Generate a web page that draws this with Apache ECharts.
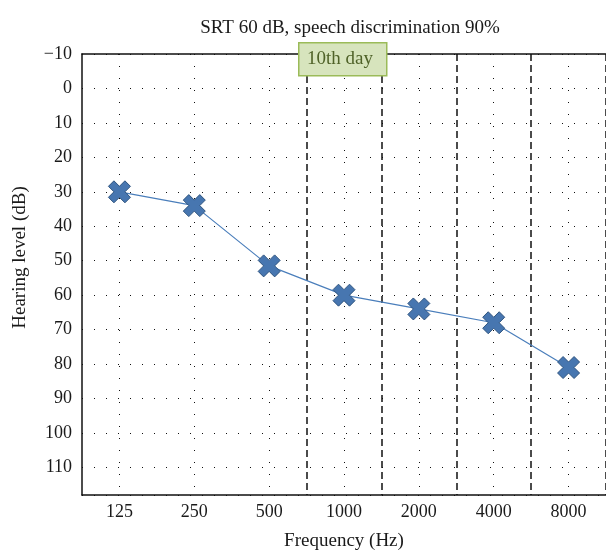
<!DOCTYPE html>
<html>
<head>
<meta charset="utf-8">
<script src="https://cdn.jsdelivr.net/npm/echarts@6/dist/echarts.min.js"></script>
<style>
  html, body { margin: 0; padding: 0; background: #fff; }
  #chart { width: 606px; height: 557px; }
</style>
</head>
<body>
<div id="chart"></div>
<script>
// audiogram data
const frequencies = ['125', '250', '500', '1000', '2000', '4000', '8000']
const hearingLevel = [30, 34, 51.5, 60, 64, 68, 81]
const yTicks = [-10, 0, 10, 20, 30, 40, 50, 60, 70, 80, 90, 100, 110]
const dayLabel = '10th day'
const firstDashed = 3 // dashed separators start before 1000 Hz

const serif = '"Liberation Serif", "DejaVu Serif", serif'
const crossPath = 'path://M5,0 L10,5 L15,0 L20,5 L15,10 L20,15 L15,20 L10,15 L5,20 L0,15 L5,10 L0,5 Z'

const myChart = echarts.init(document.getElementById('chart'))
const option = {
  backgroundColor: '#fff',
  animation: false,
  title: {
    text: 'SRT 60 dB, speech discrimination 90%',
    left: 345,
    top: 14,
    textAlign: 'center',
    textStyle: { fontFamily: serif, fontSize: 19, fontWeight: 'normal', color: '#1a1a1a' }
  },
  grid: { left: 82, right: -8, top: 54, bottom: 62, containLabel: false },
  xAxis: [
    {
      type: 'category',
      data: frequencies,
      boundaryGap: true,
      name: 'Frequency (Hz)',
      nameLocation: 'middle',
      nameGap: 37,
      nameTextStyle: { fontFamily: serif, fontSize: 19, color: '#1a1a1a' },
      axisLine: { show: true, onZero: false, lineStyle: { color: '#111', width: 1.5 } },
      axisTick: { show: false },
      axisLabel: { fontFamily: serif, fontSize: 18, color: '#1a1a1a', margin: 8 },
      splitLine: {
        show: true,
        interval: function (index) { return index >= firstDashed },
        lineStyle: { color: '#111', width: 1.5, type: [7, 4] }
      }
    },
    {
      type: 'category',
      data: frequencies,
      position: 'top',
      axisLine: { show: true, onZero: false, lineStyle: { color: '#111', width: 1.5 } },
      axisTick: { show: false },
      axisLabel: { show: false },
      splitLine: { show: false }
    }
  ],
  yAxis: {
    type: 'value',
    inverse: true,
    min: -10,
    max: 118,
    interval: 10,
    name: 'Hearing level (dB)',
    nameLocation: 'middle',
    nameGap: 52,
    nameTextStyle: { fontFamily: serif, fontSize: 19, color: '#1a1a1a', padding: [0, 0, 0, 34] },
    axisLine: { show: true, onZero: false, lineStyle: { color: '#111', width: 1.5 } },
    axisTick: { show: false },
    axisLabel: {
      fontFamily: serif,
      fontSize: 18,
      color: '#1a1a1a',
      margin: 10,
      showMaxLabel: false,
      formatter: function (v) {
        if (yTicks.indexOf(v) < 0) return ''
        return v < 0 ? '\u2212' + Math.abs(v) : String(v)
      }
    },
    splitLine: { show: true, lineStyle: { color: '#111', width: 1, type: [1, 11] } }
  },
  series: [
    {
      type: 'line',
      data: hearingLevel,
      symbol: crossPath,
      symbolSize: 22,
      lineStyle: { color: '#4a7ebb', width: 1.2 },
      itemStyle: { color: '#4776b0', borderColor: '#30557f', borderWidth: 1 },
      z: 5,
      markLine: {
        silent: true,
        symbol: 'none',
        label: { show: false },
        lineStyle: { color: '#111', width: 1, type: [1, 11] },
        data: frequencies.map(function (f) { return { xAxis: f } })
      }
    }
  ],
  graphic: [
    {
      type: 'rect',
      left: 298,
      top: 42,
      z: 100,
      shape: { x: 0, y: 0, width: 88, height: 33 },
      style: { fill: '#d7e4bd', stroke: '#9bbb59', lineWidth: 1.5 }
    },
    {
      type: 'text',
      left: 307,
      top: 50,
      z: 101,
      style: {
        text: dayLabel,
        fontFamily: serif,
        fontSize: 19,
        fill: '#4f6228'
      }
    }
  ]
}
myChart.setOption(option)
</script>
</body>
</html>
